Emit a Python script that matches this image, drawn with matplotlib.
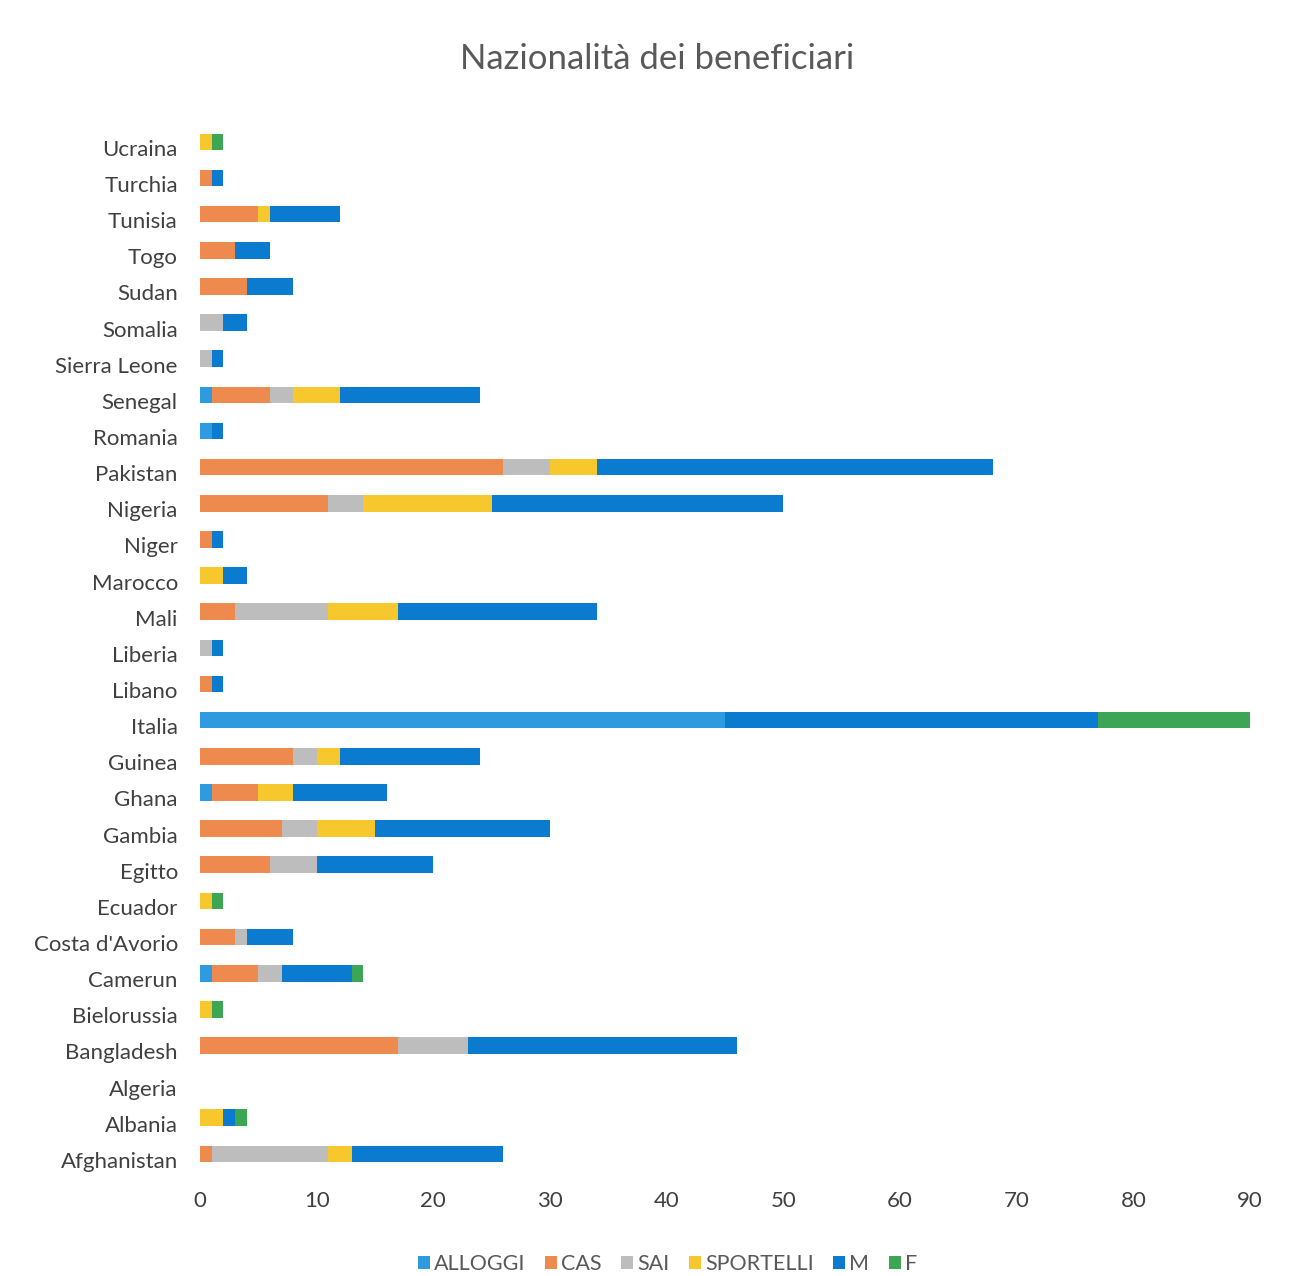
import matplotlib
matplotlib.use("Agg")
import matplotlib.pyplot as plt
import matplotlib.transforms as mtransforms
import numpy as np

countries = ["Ucraina", "Turchia", "Tunisia", "Togo", "Sudan", "Somalia", "Sierra Leone",
             "Senegal", "Romania", "Pakistan", "Nigeria", "Niger", "Marocco", "Mali",
             "Liberia", "Libano", "Italia", "Guinea", "Ghana", "Gambia", "Egitto",
             "Ecuador", "Costa d'Avorio", "Camerun", "Bielorussia", "Bangladesh",
             "Algeria", "Albania", "Afghanistan"]

alloggi   = [0, 0, 0, 0, 0, 0, 0, 1, 1, 0, 0, 0, 0, 0, 0, 0, 45, 0, 1, 0, 0, 0, 0, 1, 0, 0, 0, 0, 0]
cas       = [0, 1, 5, 3, 4, 0, 0, 5, 0, 26, 11, 1, 0, 3, 0, 1, 0, 8, 4, 7, 6, 0, 3, 4, 0, 17, 0, 0, 1]
sai       = [0, 0, 0, 0, 0, 2, 1, 2, 0, 4, 3, 0, 0, 8, 1, 0, 0, 2, 0, 3, 4, 0, 1, 2, 0, 6, 0, 0, 10]
sportelli = [1, 0, 1, 0, 0, 0, 0, 4, 0, 4, 11, 0, 2, 6, 0, 0, 0, 2, 3, 5, 0, 1, 0, 0, 1, 0, 0, 2, 2]
m_vals    = [0, 1, 6, 3, 4, 2, 1, 12, 1, 34, 25, 1, 2, 17, 1, 1, 32, 12, 8, 15, 10, 0, 4, 6, 0, 23, 0, 1, 13]
f_vals    = [1, 0, 0, 0, 0, 0, 0, 0, 0, 0, 0, 0, 0, 0, 0, 0, 13, 0, 0, 0, 0, 1, 0, 1, 1, 0, 0, 1, 0]

series_names = ["ALLOGGI", "CAS", "SAI", "SPORTELLI", "M", "F"]
series_vals = [alloggi, cas, sai, sportelli, m_vals, f_vals]
colors = ["#2E9AE0", "#EE8A4E", "#BDBDBD", "#F7C72E", "#0A7BCF", "#3DA655"]

xticks = [0, 10, 20, 30, 40, 50, 60, 70, 80, 90]

plt.rcParams['font.family'] = ['Lato', 'DejaVu Sans']

fig = plt.figure(figsize=(13.09, 12.76), dpi=100)
ax = fig.add_axes([0.1528, 0.0815, 0.8022, 0.8215])

y = np.arange(len(countries))
left = np.zeros(len(countries))
for name, vals, c in zip(series_names, series_vals, colors):
    v = np.array(vals, dtype=float)
    ax.barh(y, v, left=left, height=0.46, color=c, label=name, linewidth=0)
    left += v

ax.set_ylim(len(countries) - 0.5, -0.5)
ax.set_xlim(0, 90)
ax.set_yticks(y)
ax.set_yticklabels(countries, fontsize=16, color="#404040")
ax.set_xticks(xticks)
ax.set_xticklabels([str(t) for t in xticks], fontsize=16, color="#404040")
ax.tick_params(axis='both', length=0)
ax.tick_params(axis='y', pad=16)
ax.tick_params(axis='x', pad=14)
for s in ax.spines.values():
    s.set_visible(False)

offset = mtransforms.ScaledTranslation(0, -6 / 100, fig.dpi_scale_trans)
for lbl in ax.get_yticklabels():
    lbl.set_transform(lbl.get_transform() + offset)

fig.text(0.502, 0.954, "Nazionalità dei beneficiari", ha="center", va="center",
         fontsize=25, color="#595959")

handles, labels = ax.get_legend_handles_labels()
leg = fig.legend(handles, labels, loc="center", bbox_to_anchor=(0.51, 0.0095), ncol=6,
                 frameon=False, fontsize=15.5, handlelength=0.55, handleheight=0.55,
                 handletextpad=0.2, columnspacing=0.9)
for t in leg.get_texts():
    t.set_color("#595959")

fig.savefig("out.png", dpi=100, facecolor="white")
